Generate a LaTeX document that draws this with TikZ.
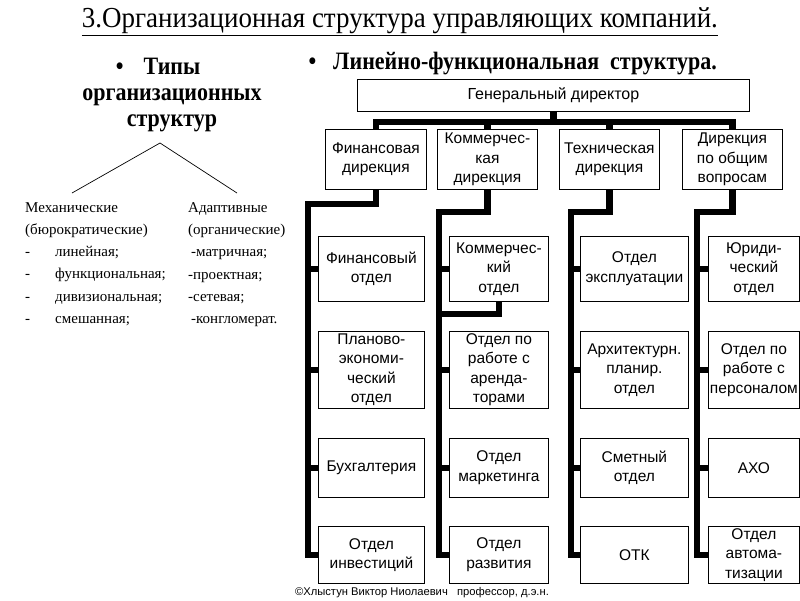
\documentclass[tikz,border=0pt]{standalone}
\usepackage{fontspec}
\setmainfont{Liberation Serif}
\setsansfont{Liberation Sans}
\newfontfamily\narrowserif[FakeStretch=0.88]{Liberation Serif}
\newfontfamily\titleserif[FakeStretch=0.93]{Liberation Serif}
\usetikzlibrary{positioning,calc,backgrounds}
\definecolor{inkBlack}{RGB}{0,0,0}

\begin{document}
\begin{tikzpicture}[x=1pt,y=-1pt,
    unitbox/.style={draw=inkBlack, line width=0.8pt, fill=white, align=center, inner sep=1pt, anchor=north west,
      font=\sffamily\fontsize{15.5}{19.5}\selectfont},
    rowa/.style={minimum height=65pt},
    rowb/.style={minimum height=77pt},
    rowc/.style={minimum height=59pt},
    rowd/.style={minimum height=57pt},
    bus/.style={line width=6.5pt, draw=inkBlack},
    plaintxt/.style={font=\fontsize{15}{22.3}\selectfont, align=left, anchor=north west, inner sep=0pt}]
  \useasboundingbox (0,0) rectangle (800,600);
  \begin{pgfonlayer}{background}
    \fill[white] (0,0) rectangle (800,600);
  \end{pgfonlayer}

  % headings
  \node (title) at (400,22) {\titleserif\fontsize{29}{32}\selectfont\underline{3.Организационная структура управляющих компаний.}};
  \node[align=center, font=\narrowserif\bfseries\fontsize{25}{25}\selectfont] (types) at (172,95)
    {\llap{\textbullet\hspace{20pt}}Типы\\[1pt] организационных\\[1pt] структур};
  \node[anchor=west, font=\narrowserif\bfseries\fontsize{25}{25}\selectfont] (linear) at (305,64)
    {\textbullet\hspace{17pt}Линейно-функциональная\ \ структура.};

  % left: kinds of structures
  \coordinate (apex) at (160,143);
  \coordinate (mechend) at (72,193);
  \coordinate (adaptend) at (237,193);
  \draw[line width=0.7pt] (apex) -- (mechend);
  \draw[line width=0.7pt] (apex) -- (adaptend);
  \node[plaintxt] (mech) at (25,202) {Механические\\(бюрократические)\\
    \makebox[30pt][l]{-}линейная;\\\makebox[30pt][l]{-}функциональная;\\
    \makebox[30pt][l]{-}дивизиональная;\\\makebox[30pt][l]{-}смешанная;};
  \node[plaintxt] (adapt) at (188,202) {Адаптивные\\(органические)\\
    \hspace{3pt}-матричная;\\-проектная;\\-сетевая;\\\hspace{3pt}-конгломерат.};

  % chart
  \node[unitbox, minimum width=392pt, minimum height=32pt, font=\sffamily\fontsize{16}{19}\selectfont] (gd) at (357,79) {Генеральный директор};
  \node[unitbox, minimum width=101pt, minimum height=60pt] (fin) at (325,129) {Финансовая\\дирекция};
  \node[unitbox, minimum width=100pt, minimum height=60pt] (com) at (437,129) {Коммерчес-\\кая\\дирекция};
  \node[unitbox, minimum width=100pt, minimum height=60pt] (tech) at (559,129) {Техническая\\дирекция};
  \node[unitbox, minimum width=100pt, minimum height=60pt] (gen) at (682,129) {Дирекция\\по общим\\вопросам};

  \node[unitbox, rowa, minimum width=106pt] (f1) at (318,236) {Финансовый\\отдел};
  \node[unitbox, rowb, minimum width=106pt] (f2) at (318,331) {Планово-\\экономи-\\ческий\\отдел};
  \node[unitbox, rowc, minimum width=106pt] (f3) at (318,438) {Бухгалтерия};
  \node[unitbox, rowd, minimum width=106pt] (f4) at (318,526) {Отдел\\инвестиций};

  \node[unitbox, rowa, minimum width=99pt] (c1) at (449,236) {Коммерчес-\\кий\\отдел};
  \node[unitbox, rowb, minimum width=99pt] (c2) at (449,331) {Отдел по\\работе с\\аренда-\\торами};
  \node[unitbox, rowc, minimum width=99pt] (c3) at (449,438) {Отдел\\маркетинга};
  \node[unitbox, rowd, minimum width=99pt] (c4) at (449,526) {Отдел\\развития};

  \node[unitbox, rowa, minimum width=108pt] (t1) at (580,236) {Отдел\\эксплуатации};
  \node[unitbox, rowb, minimum width=108pt] (t2) at (580,331) {Архитектурн.\\планир.\\отдел};
  \node[unitbox, rowc, minimum width=108pt] (t3) at (580,438) {Сметный\\отдел};
  \node[unitbox, rowd, minimum width=108pt] (t4) at (580,526) {ОТК};

  \node[unitbox, rowa, minimum width=91pt] (g1) at (708,236) {Юриди-\\ческий\\отдел};
  \node[unitbox, rowb, minimum width=91pt] (g2) at (708,331) {Отдел по\\работе с\\персоналом};
  \node[unitbox, rowc, minimum width=91pt] (g3) at (708,438) {АХО};
  \node[unitbox, rowd, minimum width=91pt] (g4) at (708,526) {Отдел\\автома-\\тизации};

  \node[font=\sffamily\fontsize{11.2}{13}\selectfont] (author) at (422,593) {©Хлыстун Виктор Ниолаевич\ \ \ профессор, д.э.н.};

  % thick connectors behind the boxes
  \coordinate (bus) at (0,122);
  \coordinate (fk) at (308,204);
  \coordinate (ck) at (439,212);
  \coordinate (tk) at (571,212);
  \coordinate (gk) at (697,212);
  \begin{pgfonlayer}{background}
    \draw[bus] (gd.south) -- (gd.south |- bus);
    \draw[bus] (fin.north) |- (bus -| gen.north) -- (gen.north);
    \draw[bus] (com.north) -- (com.north |- bus);
    \draw[bus] (tech.north) -- (tech.north |- bus);
    \draw[bus] (fin.south) |- (fk) |- (f4.west);
    \draw[bus] (com.south) |- (ck) |- (c4.west);
    \draw[bus] (tech.south) |- (tk) |- (t4.west);
    \draw[bus] (gen.south) |- (gk) |- (g4.west);
    \foreach \k/\b in {fk/f1,fk/f2,fk/f3,ck/c1,ck/c2,ck/c3,tk/t1,tk/t2,tk/t3,gk/g1,gk/g2,gk/g3}
      \draw[bus] (\b.west -| \k) -- (\b.west);
    \draw[bus] (c1.south) -- ++(0,12) -| (ck);
  \end{pgfonlayer}
\end{tikzpicture}
\end{document}
